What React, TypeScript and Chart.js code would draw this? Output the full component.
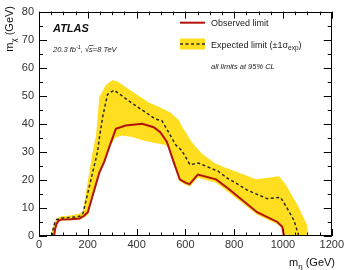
import React, { useEffect, useRef } from 'react';
import { Chart, registerables } from 'chart.js';

Chart.register(...registerables);

// ---------- data ----------
const observedX = [62, 66, 72, 80, 92, 130, 166, 185, 200, 247, 268, 290, 315, 355, 423, 470, 497, 524, 551, 577, 600, 617, 651, 726, 774, 894, 977, 997, 1004];
const observedY = [0, 2.5, 4.3, 5.4, 5.9, 6.0, 6.2, 7.2, 8.5, 22.5, 26.6, 32.2, 38.2, 39.4, 40.0, 38.8, 37.0, 33.6, 26.6, 20.2, 19.0, 18.5, 21.9, 20.2, 17.0, 8.5, 5.0, 3.3, 0];

const expectedX = [54, 58, 64, 72, 92, 130, 166, 180, 210, 240, 247, 261, 281, 308, 340, 382, 430, 477, 504, 531, 560, 585, 619, 653, 734, 774, 814, 855, 936, 990, 1011, 1045, 1065];
const expectedY = [0, 2.5, 4.5, 5.8, 6.4, 6.6, 7.0, 8.0, 19, 30, 34.7, 42.5, 50.5, 52.0, 50.0, 47.3, 44.5, 41.7, 41.1, 37.0, 32.5, 30.5, 25.4, 26.0, 23.1, 20.5, 18.5, 16.3, 13.3, 13.8, 10.8, 5.6, 0];

const bandUpperX = [51, 55, 62, 72, 92, 130, 166, 180, 220, 234, 247, 274, 300, 320, 382, 450, 497, 538, 571, 592, 625, 666, 719, 765, 890, 984, 1011, 1065, 1099, 1104];
const bandUpperY = [0, 2.5, 4.8, 6.2, 7.0, 7.3, 8.0, 8.8, 30, 36, 49.5, 53.8, 55.5, 55.2, 51.5, 47.6, 45.8, 44.0, 41.5, 38.2, 33.6, 29.5, 26.0, 24.3, 20.2, 21.3, 18.4, 10.2, 3.8, 0];

const bandLowerX = [62, 66, 72, 80, 92, 130, 166, 187, 202, 247, 268, 292, 312, 340, 382, 423, 470, 518, 538, 551, 577, 600, 617, 651, 726, 774, 894, 977, 997, 1004];
const bandLowerY = [0, 2.0, 3.8, 5.0, 5.5, 5.6, 5.8, 6.6, 7.8, 22, 26.2, 32, 35, 35.8, 35.3, 34.1, 33.2, 32.4, 31.0, 26, 19.4, 18.3, 17.6, 20.8, 19.0, 15.8, 7.6, 4.2, 2.6, 0];

const xTickValues = [0, 200, 400, 600, 800, 1000, 1200];
const xTickLabels = ['0', '200', '400', '600', '800', '1000', '1200'];
const yTickValues = [0, 10, 20, 30, 40, 50, 60, 70, 80];
const yTickLabels = ['0', '10', '20', '30', '40', '50', '60', '70', '80'];
const xMinorStep = 50;
const yMinorStep = 5;

const legendObserved = 'Observed limit';
const legendExpected = 'Expected limit (±1σ';
const legendExpectedSub = 'exp';
const legendNote = 'all limits at 95% CL';
const atlasLabel = 'ATLAS';

// ---------- style ----------
const FONT = '"Liberation Sans", Arial, Helvetica, sans-serif';
const RED = 'rgb(178, 18, 10)';
const YELLOW = 'rgb(254, 222, 30)';
const DASH = '#2a2a2a';

const pts = (xs: number[], ys: number[]) => xs.map((x, i) => ({ x, y: ys[i] }));

type Seg = { text: string; size: number; dy?: number; style?: string };

function drawRich(ctx: CanvasRenderingContext2D, x: number, y: number, segs: Seg[]) {
  let cx = x;
  for (const s of segs) {
    ctx.font = `${s.style || ''} ${s.size}px ${FONT}`;
    ctx.fillText(s.text, cx, y + (s.dy || 0));
    cx += ctx.measureText(s.text).width;
  }
  return cx;
}
function richWidth(ctx: CanvasRenderingContext2D, segs: Seg[]) {
  let w = 0;
  for (const s of segs) {
    ctx.font = `${s.style || ''} ${s.size}px ${FONT}`;
    w += ctx.measureText(s.text).width;
  }
  return w;
}

const framePlugin = {
  id: 'frameAndText',
  afterDatasetsDraw(chart: any) {
    const { ctx, chartArea: a, scales } = chart;
    const xs = scales.x;
    const ys = scales.y;
    ctx.save();
    // frame
    ctx.strokeStyle = '#000';
    ctx.lineWidth = 1;
    ctx.strokeRect(Math.round(a.left) + 0.5, Math.round(a.top) + 0.5, Math.round(a.right - a.left) - 1, Math.round(a.bottom - a.top) - 1);
    ctx.beginPath();
    for (let v = xs.min; v <= xs.max + 1e-6; v += xMinorStep) {
      const px = Math.round(xs.getPixelForValue(v)) + 0.5;
      const major = xTickValues.includes(v);
      const l = major ? 7 : 3.5;
      ctx.moveTo(px, a.bottom); ctx.lineTo(px, a.bottom - l);
      ctx.moveTo(px, a.top); ctx.lineTo(px, a.top + l);
    }
    for (let v = ys.min; v <= ys.max + 1e-6; v += yMinorStep) {
      const py = Math.round(ys.getPixelForValue(v)) + 0.5;
      const major = yTickValues.includes(v);
      const l = major ? 8 : 4;
      ctx.moveTo(a.left, py); ctx.lineTo(a.left + l, py);
      ctx.moveTo(a.right, py); ctx.lineTo(a.right - l, py);
    }
    ctx.stroke();

    ctx.fillStyle = '#111';
    ctx.textBaseline = 'alphabetic';
    ctx.textAlign = 'left';
    ctx.font = `italic bold 11px ${FONT}`;
    ctx.fillText(atlasLabel, 53, 32);
    ctx.fillStyle = '#222';
    const cx = drawRich(ctx, 53, 51.5, [
      { text: '20.3 fb', size: 7.5, style: 'italic' },
      { text: '-1', size: 5.5, dy: -3, style: 'italic' },
      { text: ', ', size: 7.5, style: 'italic' },
      { text: '√', size: 7.5, style: 'italic' },
    ]);
    ctx.font = `italic 7.5px ${FONT}`;
    const sw = ctx.measureText('s').width;
    ctx.fillText('s', cx, 51.5);
    ctx.beginPath();
    ctx.lineWidth = 0.7;
    ctx.strokeStyle = '#222';
    ctx.moveTo(cx, 45.5); ctx.lineTo(cx + sw + 0.5, 45.5);
    ctx.stroke();
    drawRich(ctx, cx + sw, 51.5, [{ text: '=8 TeV', size: 7.5, style: 'italic' }]);

    // legend
    ctx.beginPath();
    ctx.strokeStyle = RED; ctx.lineWidth = 2;
    ctx.moveTo(180, 22.7); ctx.lineTo(205, 22.7);
    ctx.stroke();
    ctx.fillStyle = '#222';
    ctx.font = `9px ${FONT}`;
    ctx.fillText(legendObserved, 211, 26);

    ctx.fillStyle = YELLOW;
    ctx.fillRect(180, 38.5, 25, 11);
    ctx.beginPath();
    ctx.strokeStyle = DASH; ctx.lineWidth = 1.5; ctx.setLineDash([3, 2.5]);
    ctx.moveTo(180, 44); ctx.lineTo(205, 44);
    ctx.stroke();
    ctx.setLineDash([]);
    ctx.fillStyle = '#222';
    drawRich(ctx, 211, 47.5, [
      { text: legendExpected, size: 9 },
      { text: legendExpectedSub, size: 6.5, dy: 2.5 },
      { text: ')', size: 9 },
    ]);
    ctx.font = `italic 7.5px ${FONT}`;
    ctx.fillText(legendNote, 211, 69);

    // axis titles
    ctx.fillStyle = '#111';
    const xt: Seg[] = [
      { text: 'm', size: 11 },
      { text: 'η', size: 8, dy: 3 },
      { text: ' (GeV)', size: 11 },
    ];
    const xw = richWidth(ctx, xt);
    drawRich(ctx, 335 - xw, 266, xt);

    const yt: Seg[] = [
      { text: 'm', size: 11 },
      { text: 'χ', size: 8, dy: 3 },
      { text: ' (GeV)', size: 11 },
    ];
    const yw = richWidth(ctx, yt);
    ctx.save();
    ctx.translate(13, 6 + yw);
    ctx.rotate(-Math.PI / 2);
    drawRich(ctx, 0, 0, yt);
    ctx.restore();

    ctx.restore();
  },
};

export default function App() {
  const ref = useRef<HTMLCanvasElement | null>(null);
  useEffect(() => {
    if (!ref.current) return;
    const bandPoints = [
      ...pts(bandUpperX, bandUpperY),
      ...pts(bandLowerX, bandLowerY).reverse(),
    ];
    const chart = new Chart(ref.current, {
      type: 'scatter',
      data: {
        datasets: [
          {
            label: 'Observed limit',
            data: pts(observedX, observedY),
            showLine: true,
            borderColor: RED,
            borderWidth: 2,
            pointRadius: 0,
            fill: false,
            tension: 0,
          },
          {
            label: 'Expected limit',
            data: pts(expectedX, expectedY),
            showLine: true,
            borderColor: DASH,
            borderWidth: 1.5,
            borderDash: [3, 2.5],
            pointRadius: 0,
            fill: false,
            tension: 0,
          },
          {
            label: '±1σ band',
            data: bandPoints,
            showLine: true,
            borderColor: 'rgba(0,0,0,0)',
            borderWidth: 0,
            backgroundColor: YELLOW,
            pointRadius: 0,
            fill: 'shape',
            tension: 0,
          },
        ],
      } as any,
      options: {
        responsive: false,
        animation: false,
        devicePixelRatio: 1,
        layout: { padding: { top: 7, right: 11, left: 0, bottom: 0 } },
        plugins: { legend: { display: false }, tooltip: { enabled: false } },
        scales: {
          x: {
            type: 'linear',
            min: 0,
            max: 1200,
            afterBuildTicks: (s: any) => { s.ticks = xTickValues.map((v) => ({ value: v })); },
            ticks: {
              font: { family: FONT, size: 11 }, color: '#333', padding: 2, maxRotation: 0, autoSkip: false,
              callback: (v: any) => xTickLabels[xTickValues.indexOf(Number(v))] ?? String(v),
            },
            grid: { display: false, drawTicks: false },
            border: { display: false },
            afterFit: (s: any) => { s.height = 34; },
          },
          y: {
            type: 'linear',
            min: 0,
            max: 80,
            afterBuildTicks: (s: any) => { s.ticks = yTickValues.map((v) => ({ value: v })); },
            ticks: {
              font: { family: FONT, size: 11 }, color: '#333', padding: 5, autoSkip: false,
              callback: (v: any) => yTickLabels[yTickValues.indexOf(Number(v))] ?? String(v),
            },
            grid: { display: false, drawTicks: false },
            border: { display: false },
            afterFit: (s: any) => { s.width = 39; },
          },
        },
      } as any,
      plugins: [framePlugin],
    });
    return () => chart.destroy();
  }, []);
  return (
    <div style={{ position: 'fixed', left: 0, top: 0, width: 346, height: 270, background: '#fff' }}>
      <canvas ref={ref} width={346} height={270} style={{ width: 346, height: 270, display: 'block' }} />
    </div>
  );
}
